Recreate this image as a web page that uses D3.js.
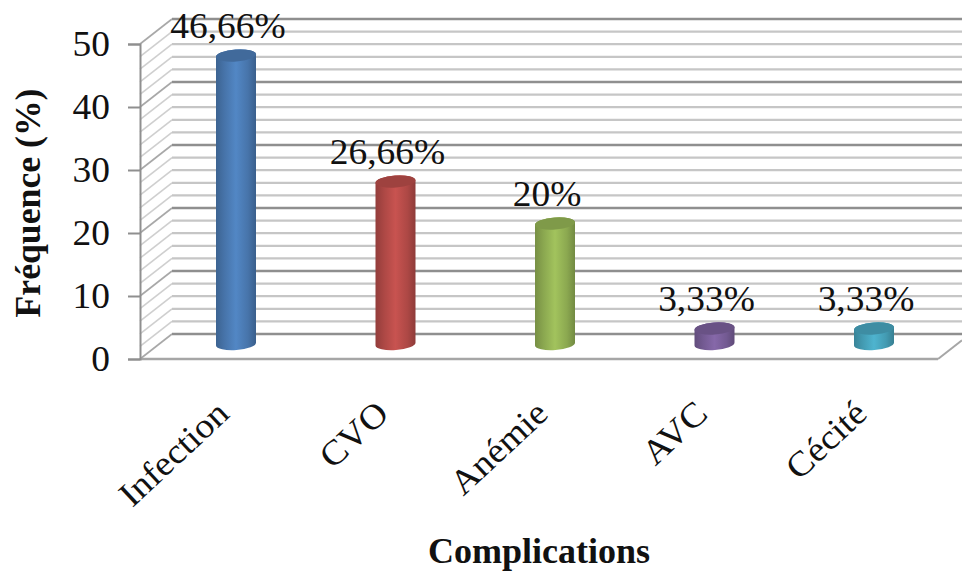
<!DOCTYPE html>
<html>
<head>
<meta charset="utf-8">
<script src="https://cdn.jsdelivr.net/npm/d3@7/dist/d3.min.js"></script>
<style>
  html, body { margin: 0; padding: 0; background: #fff; }
  svg { display: block; }
  text { font-family: "Liberation Serif", serif; fill: #111; }
</style>
</head>
<body>
<svg id="chart" width="962" height="571"></svg>
<script>
// Complications and their frequency in percent
const categories = ["Infection", "CVO", "Anémie", "AVC", "Cécité"];
const values = [46.66, 26.66, 20, 3.33, 3.33];
const valueLabels = ["46,66%", "26,66%", "20%", "3,33%", "3,33%"];
const barColors = ["#4f81bd", "#c0504d", "#9bbb59", "#8064a2", "#4bacc6"];
const majorTicks = [0, 10, 20, 30, 40, 50];
const gridLevels = d3.range(0, 51, 2);
const yTitle = "Fréquence (%)";
const xTitle = "Complications";

const svg = d3.select("#chart");
const width = 962, height = 571;

// Front plane of the 3D box, and the offset of its back wall
const y = d3.scaleLinear().domain([0, 50]).range([359, 44]);
const x = d3.scalePoint().domain(categories).range([236, 874]);
const depth = { dx: 32, dy: -25 };
const frontLeft = 140, frontRight = 938;
const fontSize = 35;
const stretch = 1.07;

const defs = svg.append("defs");
categories.forEach((c, i) => {
  const base = d3.color(barColors[i]);
  const g = defs.append("linearGradient").attr("id", "cyl" + i)
    .attr("x1", 0).attr("x2", 1).attr("y1", 0).attr("y2", 0);
  g.append("stop").attr("offset", "0%").attr("stop-color", base.darker(0.75));
  g.append("stop").attr("offset", "22%").attr("stop-color", base.darker(0.3));
  g.append("stop").attr("offset", "50%").attr("stop-color", base.brighter(0.12));
  g.append("stop").attr("offset", "80%").attr("stop-color", base.darker(0.3));
  g.append("stop").attr("offset", "100%").attr("stop-color", base.darker(0.85));
});

// Grid: side wall and back wall
const grid = svg.append("g");
const isMajor = d => d % 10 === 0;
const gridColor = d => isMajor(d) ? "#8f8f8f" : "#c6c6c6";
const gridWidth = d => isMajor(d) ? 2.4 : 2.2;

grid.selectAll("line.side").data(gridLevels).join("line").attr("class", "side")
  .attr("x1", frontLeft).attr("y1", d => y(d))
  .attr("x2", frontLeft + depth.dx).attr("y2", d => y(d) + depth.dy)
  .attr("stroke", d => isMajor(d) ? "#a8a8a8" : "#cfcfcf")
  .attr("stroke-width", 1.6);

grid.selectAll("line.back").data(gridLevels).join("line").attr("class", "back")
  .attr("x1", frontLeft + depth.dx).attr("y1", d => y(d) + depth.dy)
  .attr("x2", width).attr("y2", d => y(d) + depth.dy)
  .attr("stroke", gridColor)
  .attr("stroke-width", gridWidth);

// Floor edges
grid.append("line")
  .attr("x1", frontLeft).attr("x2", frontRight)
  .attr("y1", y(0)).attr("y2", y(0))
  .attr("stroke", "#a6a6a6").attr("stroke-width", 2.4);
grid.append("line")
  .attr("x1", frontRight).attr("y1", y(0))
  .attr("x2", width).attr("y2", y(0) + depth.dy * 0.75)
  .attr("stroke", "#a6a6a6").attr("stroke-width", 2);

// Value axis
const yAxis = svg.append("g")
  .attr("transform", `translate(${frontLeft},0)`)
  .call(d3.axisLeft(y).tickValues(majorTicks).tickSize(12).tickPadding(18));
yAxis.select(".domain").attr("stroke", "#8f8f8f").attr("stroke-width", 2);
yAxis.selectAll(".tick line").attr("stroke", "#8f8f8f").attr("stroke-width", 2);
yAxis.selectAll("text")
  .attr("font-size", fontSize)
  .attr("font-family", "Liberation Serif")
  .attr("fill", "#111")
  .attr("dy", "0.34em")
  .attr("transform", function () {
    const tx = +d3.select(this).attr("x");
    return `translate(${tx},0) scale(${stretch},1) translate(${-tx},0)`;
  });

// Cylinders
const rx = 20, ry = 6;
const baseY = 344;
const topOf = v => y(v) - 9.5;
const bars = svg.append("g").selectAll("g").data(values).join("g")
  .attr("transform", (d, i) => `translate(${x(categories[i])},0)`);

bars.append("path")
  .attr("fill", (d, i) => `url(#cyl${i})`)
  .attr("d", d => {
    const t = topOf(d), tilt = 1.4;
    return `M${-rx},${t + tilt} L${-rx},${baseY + tilt}
      A${rx},${ry} -4 0 0 ${rx},${baseY - tilt}
      L${rx},${t - tilt}
      A${rx},${ry} -4 0 0 ${-rx},${t + tilt} Z`;
  });
bars.append("ellipse")
  .attr("rx", rx).attr("ry", ry)
  .attr("transform", d => `translate(0,${topOf(d)}) rotate(-4)`)
  .attr("fill", (d, i) => d3.color(barColors[i]).darker(0.55));

// Value labels above the cylinders
svg.append("g").selectAll("text").data(values).join("text")
  .attr("text-anchor", "middle")
  .attr("font-size", fontSize)
  .attr("transform", (d, i) => `translate(${x(categories[i]) - 8},${y(d) - 27}) scale(${stretch},1)`)
  .text((d, i) => valueLabels[i]);

// Slanted category labels
svg.append("g").selectAll("text").data(categories).join("text")
  .attr("text-anchor", "end")
  .attr("font-size", fontSize)
  .attr("transform", d => `translate(${x(d) - 5},${416}) rotate(-43) scale(${stretch},1)`)
  .text(d => d);

// Axis titles
svg.append("text")
  .attr("text-anchor", "middle")
  .attr("font-size", fontSize).attr("font-weight", "bold")
  .attr("transform", `translate(40,203) rotate(-90) scale(1.02,1)`)
  .text(yTitle);
svg.append("text")
  .attr("text-anchor", "middle")
  .attr("font-size", fontSize).attr("font-weight", "bold")
  .attr("transform", `translate(539,563) scale(1.03,1)`)
  .text(xTitle);
</script>
</body>
</html>
